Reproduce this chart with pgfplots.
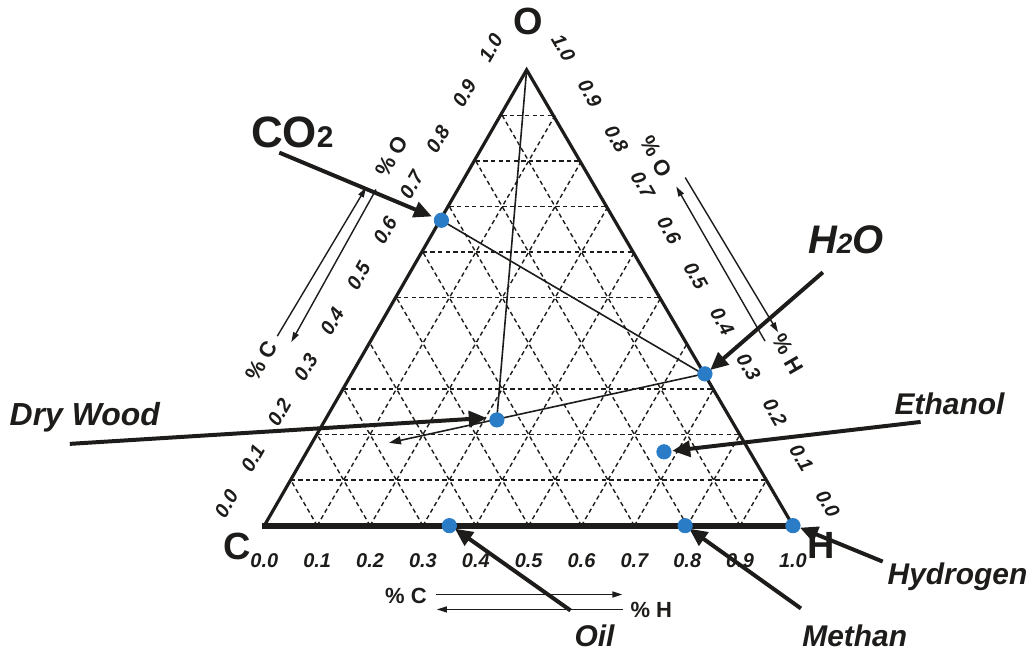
\documentclass[border=0pt]{standalone}
\usepackage{fontspec}
\setmainfont{Liberation Sans}
\usepackage{pgfplots}
\usepackage{pgfplotstable}
\pgfplotsset{compat=1.18}
\usetikzlibrary{arrows.meta}
\definecolor{dotblue}{HTML}{2B7CC6}
\definecolor{ink}{HTML}{1E1C1A}

% molar fractions (C = 1 - H - O)
\pgfplotstableread{
name     H      O
CO2      0.000  0.670
H2O      0.667  0.333
DryWood  0.324  0.232
Ethanol  0.675  0.162
Oil      0.350  0.000
Methane  0.796  0.000
Hydrogen 1.000  0.000
}\points

\tikzset{
  griddash/.style={ink, line width=0.7pt, dash pattern=on 2.2pt off 1.6pt},
  callout/.style={ink, line width=2pt, -{Triangle[length=9pt,width=8pt]}},
  thin/.style={ink, line width=0.8pt},
  dirarrow/.style={ink, line width=0.7pt, -{Triangle[length=5pt,width=3pt]}},
  tick/.style={font=\fontsize{10}{10}\selectfont\bfseries\itshape, ink, inner sep=0.5pt},
  pct/.style={font=\fontsize{11}{11}\selectfont\bfseries, ink, inner sep=0.5pt},
  tag/.style={font=\fontsize{15}{15}\selectfont\bfseries\itshape, ink},
}

\begin{document}
\begin{tikzpicture}
\begin{axis}[
  width=517pt, height=326pt, scale only axis,
  xmin=0, xmax=1034, ymin=0, ymax=652, y dir=reverse,
  hide axis, clip=false,
]
\path (0,0) rectangle (1034,652);

% grid: constant H and constant C
\pgfplotsinvokeforeach{0.1,0.2,0.3,0.4,0.5,0.6,0.7,0.8,0.9}{
  \draw[griddash] ({265+530*#1},527) -- ({265+265*(1+#1)},{527-457*(1-#1)});
  \draw[griddash] ({795-530*#1},527) -- ({265+265*(1-#1)},{527-457*(1-#1)});
}
% grid: constant O
\pgfplotsinvokeforeach{0.1,0.2,0.3,0.5,0.6,0.7,0.8,0.9}{
  \draw[griddash] ({265+265*#1},{527-457*#1}) -- ({795-265*#1},{527-457*#1});
}

% triangle
\draw[ink, line width=1.6pt, line join=miter] (265,527) -- (528,70) -- (795,527);
\draw[ink, line width=3pt] (263,527) -- (797,527);

% mixing lines
\draw[thin] (528,70) -- (498,421);
\draw[thin] (441,220) -- (705,375);
\draw[thin, -{Triangle[length=6pt,width=4pt]}] (705,375) -- (390,444);

% tick labels
\pgfplotsinvokeforeach{0.0,0.1,0.2,0.3,0.4,0.5,0.6,0.7,0.8,0.9,1.0}{
  \node[tick, rotate=60] at ({227+265*#1},{505-457*#1}) {#1};
  \node[tick, rotate=-60] at ({830-265*#1},{505-457*#1}) {#1};
  \node[tick] at ({265+530*#1},562) {#1};
}

% corner labels
\node[font=\fontsize{19}{19}\selectfont\bfseries, ink] at (530,22) {O};
\node[font=\fontsize{19}{19}\selectfont\bfseries, ink] at (238,548) {C};
\node[font=\fontsize{19}{19}\selectfont\bfseries, ink] at (823,547) {H};

% direction arrows
\draw[dirarrow] (278,337) -- (367,188);
\draw[dirarrow] (377,190) -- (292,343);
\node[pct, rotate=60] at (393,157) {\% O};
\node[pct, rotate=60] at (262,362) {\% C};
\draw[dirarrow] (767,342) -- (678,187);
\draw[dirarrow] (687,178) -- (780,333);
\node[pct, rotate=-60] at (658,157) {\% O};
\node[pct, rotate=-60] at (790,355) {\% H};
\draw[dirarrow] (437,596) -- (624,596);
\draw[dirarrow] (625,611) -- (438,611);
\node[pct] at (407,597) {\% C};
\node[pct] at (653,611) {\% H};

% callouts
\draw[callout] (280,153) -- (433,217);
\draw[callout] (825,273) -- (712,371);
\draw[callout] (70,445) -- (488,419);
\draw[callout] (923,423) -- (674,452);
\draw[callout] (885,563) -- (802,529);
\draw[callout] (803,610) -- (691,530);
\draw[callout] (572,612) -- (456,530);

\node[ink, font=\fontsize{22}{22}\selectfont\bfseries] at (293,133)
  {CO{\fontsize{15}{15}\selectfont 2}};
\node[ink, font=\fontsize{20}{20}\selectfont\bfseries\itshape] at (848,240)
  {H{\fontsize{14}{14}\selectfont 2}O};
\node[tag, font=\fontsize{16}{16}\selectfont\bfseries\itshape] at (85,418) {Dry Wood};
\node[tag] at (952,405) {Ethanol};
\node[tag] at (960,578) {Hydrogen};
\node[tag] at (857,637) {Methan};
\node[tag] at (596,637) {Oil};

% compositions
\addplot[only marks, mark=*, mark size=3.6pt, color=dotblue]
  table[x expr=265+530*(\thisrow{H}+0.5*\thisrow{O}), y expr=527-457*\thisrow{O}] {\points};
\end{axis}
\end{tikzpicture}
\end{document}
